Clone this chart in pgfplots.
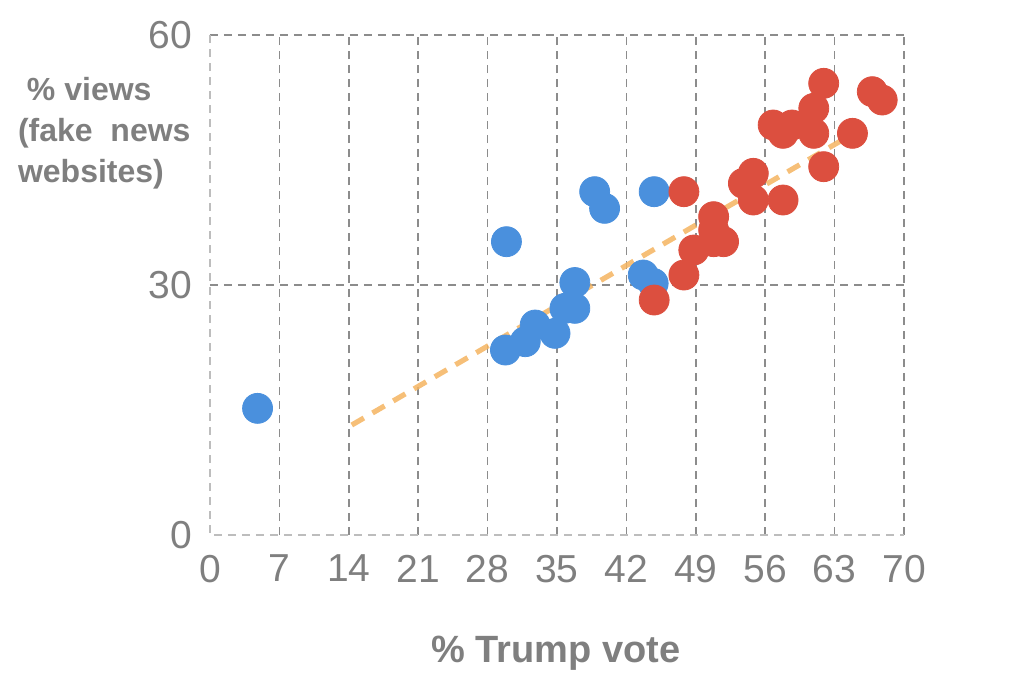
\documentclass[border=0pt]{standalone}
\usepackage{pgfplots}
\pgfplotsset{compat=1.18}
\usepackage{fontspec}
\setmainfont{Liberation Sans}
\definecolor{ptblue}{HTML}{4A90DD}
\definecolor{ptred}{HTML}{DC4F3F}
\definecolor{trend}{HTML}{F5B460}
\definecolor{txtgray}{HTML}{7F7F7F}
\definecolor{gridgray}{HTML}{8C8C8C}
\definecolor{axgray}{HTML}{BDBDBD}
\begin{document}
\begin{tikzpicture}
\begin{axis}[
  scale only axis,
  width=347bp, height=250bp,
  xmin=0, xmax=70, ymin=0, ymax=60,
  clip=false,
  axis line style={draw=none},
  xtick={7,14,...,70}, ytick={30,60},
  extra x ticks={0}, extra y ticks={0},
  extra tick style={grid=none},
  grid=major,
  major grid style={draw=gridgray, line width=0.8bp, dash pattern=on 4bp off 3bp},
  major tick length=0pt,
  /pgf/number format/assume math mode=true,
  tick label style={font=\fontsize{19.5bp}{22bp}\selectfont, text=txtgray},
  xticklabel style={yshift=-6.5bp},
  yticklabel style={xshift=-5.5bp},
]
\path (axis cs:-21.18,-18.12) rectangle (axis cs:83.11,64.2);
\draw[axgray, line width=1.2bp, dash pattern=on 4bp off 3bp] (axis cs:0,60) -- (axis cs:0,0) -- (axis cs:70,0);
\addplot[only marks, mark=*, mark size=7.5bp, draw=ptblue, fill=ptblue] coordinates {
(4.8,15.2) (29.9,35.2) (38.8,41.2) (39.8,39.2) (44.8,41.2) (43.7,31.2) (44.7,30.2)
(36.8,30.3) (36.8,27.2) (35.8,27.2) (34.8,24.2) (32.8,25.2) (31.8,23.2) (29.8,22.2)
};
\addplot[only marks, mark=*, mark size=7.5bp, draw=ptred, fill=ptred] coordinates {
(61.9,54.2) (66.8,53.2) (67.8,52.2) (60.9,51.2) (56.8,49.2) (57.8,48.2) (58.7,49.2)
(60.9,48.2) (64.8,48.2) (61.9,44.2) (54.8,43.4) (53.8,42.2) (54.8,40.2) (57.8,40.2)
(47.8,41.2) (50.8,38.2) (50.8,36.6) (50.8,35.2) (51.8,35.2) (48.8,34.2) (47.8,31.2) (44.8,28.2)
};
\addplot[trend, line width=2.6bp, dash pattern=on 7bp off 5bp, opacity=0.85] coordinates {(14.3,13.2) (65.8,48.8)};
\node[anchor=center, font=\bfseries\fontsize{19bp}{22bp}\selectfont, text=txtgray] at (axis cs:34.9,-14.2) {\% Trump vote};
\node[anchor=west, align=left, font=\bfseries\fontsize{16bp}{20.5bp}\selectfont, text=txtgray, inner sep=0pt] at (axis cs:-19.4,48.2) {\hspace{0.28em}\% views\\(fake\ \ news\\websites)};
\end{axis}
\end{tikzpicture}
\end{document}
